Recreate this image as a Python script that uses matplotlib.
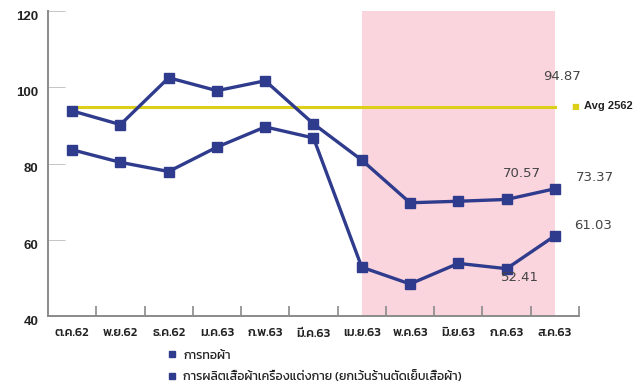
import matplotlib
matplotlib.use("Agg")
import matplotlib.pyplot as plt
from matplotlib.lines import Line2D
from matplotlib.transforms import ScaledTranslation

months = ["ต.ค.62", "พ.ย.62", "ธ.ค.62", "ม.ค.63", "ก.พ.63", "มี.ค.63",
          "เม.ย.63", "พ.ค.63", "มิ.ย.63", "ก.ค.63", "ส.ค.63"]
weaving = [93.8, 90.2, 102.5, 99.1, 101.7, 90.4, 80.9, 69.7, 70.1, 70.57, 73.37]
garments = [83.6, 80.3, 77.9, 84.3, 89.6, 86.7, 52.8, 48.4, 53.8, 52.41, 61.03]
avg_2562 = 94.87
series_names = ["การทอผ้า", "การผลิตเสื้อผ้าเครื่องแต่งกาย (ยกเว้นร้านตัดเย็บเสื้อผ้า)"]
yticks = [40, 60, 80, 100, 120]
shade_from, shade_to = "เม.ย.63", "ส.ค.63"

NAVY = "#2f3b8c"
PINK = "#fbd5dd"
YELLOW = "#dccf1a"
AXIS = "#8a8a8a"
THAI = ["Kanit", "Noto Sans Thai", "DejaVu Sans"]

fig = plt.figure(figsize=(6.38, 3.85), dpi=100)
ax = fig.add_axes([48 / 638, 1 - 316 / 385, 531 / 638, 305 / 385])

x = list(range(len(months)))
i0, i1 = months.index(shade_from), months.index(shade_to)
ax.axvspan(i0, i1, color=PINK, lw=0, zorder=0)
ax.plot([x[0], x[-1]], [avg_2562, avg_2562], color=YELLOW, lw=2.2, zorder=2)

for vals in (weaving, garments):
    ax.plot(x, vals, color=NAVY, lw=2.4, marker="s", ms=6.5, zorder=3)

ax.set_xlim(-0.5, len(months) - 0.5)
ax.set_ylim(40, 120)

# y axis: ticks pointing inward, labels sitting slightly below their ticks
ax.set_yticks(yticks)
ax.set_yticklabels([str(v) for v in yticks], fontsize=9.5, fontweight="bold",
                   family="Liberation Sans", color="#222222")
ax.tick_params(axis="y", direction="in", length=12, width=0.6, color="#bbbbbb", pad=7)
shift = ScaledTranslation(0, -6 / 100, fig.dpi_scale_trans)
for lab in ax.get_yticklabels():
    lab.set_verticalalignment("center")
    lab.set_transform(lab.get_transform() + shift)

# x axis: category labels at centres, boundary ticks pointing inward
ax.set_xticks(x)
ax.set_xticklabels(months, fontsize=9, fontweight="medium", family=THAI, color="#222222")
ax.tick_params(axis="x", length=0, pad=9)
ax.set_xticks([i + 0.5 for i in x], minor=True)
ax.tick_params(axis="x", which="minor", direction="in", length=7, width=1.2, color=AXIS)

for s in ("top", "right"):
    ax.spines[s].set_visible(False)
for s in ("left", "bottom"):
    ax.spines[s].set_color(AXIS)
    ax.spines[s].set_linewidth(1.4)

# value annotations
lbl = dict(fontsize=9.5, family="DejaVu Sans", color="#444444", va="center")
ax.text(x[-1] + 0.15, avg_2562 + 8, f"{avg_2562:.2f}", ha="center", **lbl)
ax.text(x[-2] + 0.32, weaving[-2] + 6.7, f"{weaving[-2]:.2f}", ha="center", **lbl)
ax.text(x[-1] + 0.83, weaving[-1] + 3.0, f"{weaving[-1]:.2f}", ha="center", **lbl)
ax.text(x[-1] + 0.8, garments[-1] + 2.6, f"{garments[-1]:.2f}", ha="center", **lbl)
ax.text(x[-2] + 0.28, garments[-2] - 2.4, f"{garments[-2]:.2f}", ha="center", **lbl)

# legend for the average line at right
fig.text(575 / 638, 1 - 107 / 385, "■", color=YELLOW, fontsize=6, ha="center", va="center",
         family="DejaVu Sans")
fig.text(584 / 638, 1 - 106 / 385, "Avg 2562", fontsize=8, fontweight="bold",
         family="Liberation Sans", color="#222222", va="center")

# legend for the two series below the axis
handles = [Line2D([], [], ls="none", marker="s", ms=4.5, color=NAVY) for _ in series_names]
leg = fig.legend(handles, series_names, loc="upper left",
                 bbox_to_anchor=(168 / 638, 1 - 350 / 385), frameon=False,
                 handlelength=0.6, handletextpad=0.6, labelspacing=0.75,
                 borderaxespad=0, borderpad=0,
                 prop={"family": THAI, "size": 9})
for t in leg.get_texts():
    t.set_color("#222222")

fig.savefig("out.png", dpi=100)
